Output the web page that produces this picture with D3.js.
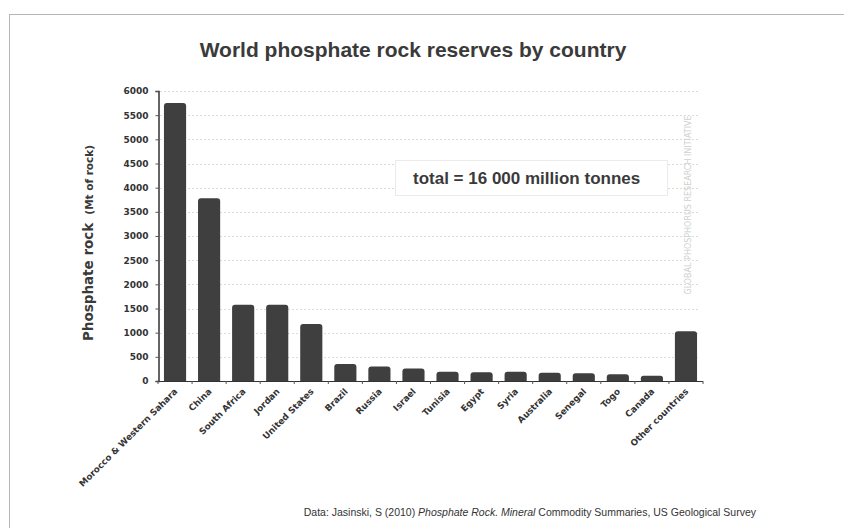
<!DOCTYPE html>
<html>
<head>
<meta charset="utf-8">
<script src="https://cdn.jsdelivr.net/npm/d3@7"></script>
<style>
  body { margin: 0; background: #fff; }
  svg { display: block; }
</style>
</head>
<body>
<div id="container"><svg></svg></div>
<script>
var countries = ['Morocco & Western Sahara', 'China', 'South Africa', 'Jordan', 'United States',
    'Brazil', 'Russia', 'Israel', 'Tunisia', 'Egypt', 'Syria', 'Australia', 'Senegal', 'Togo',
    'Canada', 'Other countries'];
var reserves = [5750, 3780, 1580, 1580, 1180, 350, 300, 260, 190, 180, 190, 170, 160, 140, 110, 1030];
var yTicks = [0, 500, 1000, 1500, 2000, 2500, 3000, 3500, 4000, 4500, 5000, 5500, 6000];

var W = 844, H = 528;
var barColor = '#3f3f3f';

function main() {
    var svg = d3.select('#container svg').attr('width', W).attr('height', H);

    // page frame
    svg.append('line').attr('x1', 9).attr('x2', W).attr('y1', 14.5).attr('y2', 14.5)
        .attr('stroke', '#b5b5b5').attr('stroke-width', 1);
    svg.append('line').attr('x1', 9.5).attr('x2', 9.5).attr('y1', 14).attr('y2', H)
        .attr('stroke', '#b5b5b5').attr('stroke-width', 1);

    svg.append('text')
        .attr('x', 413).attr('y', 57)
        .attr('text-anchor', 'middle')
        .style('font-family', '"Liberation Sans", Arial, sans-serif')
        .style('font-weight', 'bold').style('font-size', '21px')
        .attr('fill', '#3a3a3a')
        .text('World phosphate rock reserves by country');

    var x = d3.scaleBand().domain(countries).range([158, 703]).paddingInner(0.35).paddingOuter(0.175);
    var y = d3.scaleLinear().domain([0, 6000]).range([381, 91]);

    // gridlines
    svg.append('g').selectAll('line').data(yTicks.slice(1)).join('line')
        .attr('x1', 160).attr('x2', 700)
        .attr('y1', function(d) { return Math.round(y(d)) + 0.5; })
        .attr('y2', function(d) { return Math.round(y(d)) + 0.5; })
        .attr('stroke', '#dcdcdc').attr('stroke-width', 1).attr('stroke-dasharray', '2,2');

    // watermark
    svg.append('text')
        .attr('transform', 'translate(691,205) rotate(-90)')
        .attr('text-anchor', 'middle')
        .style('font-family', '"DejaVu Sans", sans-serif').style('font-size', '8px')
        .attr('fill', '#d0d0d0')
        .text('GLOBAL PHOSPHORUS RESEARCH INITIATIVE');

    // annotation box
    svg.append('rect').attr('x', 395.5).attr('y', 160.5).attr('width', 272).attr('height', 35)
        .attr('fill', '#fff').attr('stroke', '#ebebeb');
    svg.append('text')
        .attr('x', 413).attr('y', 184)
        .style('font-family', '"Liberation Sans", Arial, sans-serif')
        .style('font-weight', 'bold').style('font-size', '17px')
        .attr('fill', '#3a3a3a')
        .text('total = 16 000 million tonnes');

    // bars with rounded tops
    var r = 3;
    svg.append('g').selectAll('path').data(countries).join('path')
        .attr('fill', barColor)
        .attr('d', function(c, i) {
            var x0 = x(c), x1 = x(c) + x.bandwidth();
            var y0 = y(0), y1 = y(reserves[i]);
            var rr = Math.min(r, (y0 - y1) / 2);
            return 'M' + x0 + ',' + y0 + 'V' + (y1 + rr) + 'Q' + x0 + ',' + y1 + ' ' + (x0 + rr) + ',' + y1 +
                'H' + (x1 - rr) + 'Q' + x1 + ',' + y1 + ' ' + x1 + ',' + (y1 + rr) + 'V' + y0 + 'Z';
        });

    // y axis
    var yAxis = d3.axisLeft(y).tickValues(yTicks).tickSize(3).tickPadding(7).tickFormat(d3.format('d'));
    var gy = svg.append('g').attr('transform', 'translate(158.5,0)').call(yAxis);
    gy.select('.domain').attr('stroke', '#333').attr('stroke-width', 1.5);
    gy.selectAll('.tick line').attr('stroke', '#555');
    gy.selectAll('.tick text')
        .style('font-family', '"DejaVu Sans", sans-serif')
        .style('font-weight', 'bold').style('font-size', '9px')
        .attr('fill', '#333');

    // x axis line and boundary ticks
    var gx = svg.append('g');
    gx.append('line').attr('x1', 158).attr('x2', 703).attr('y1', 381.5).attr('y2', 381.5)
        .attr('stroke', '#333').attr('stroke-width', 1.2);
    var bounds = d3.range(countries.length + 1).map(function(i) { return 158 + i * x.step(); });
    gx.selectAll('line.tk').data(bounds).join('line').attr('class', 'tk')
        .attr('x1', function(d) { return d; }).attr('x2', function(d) { return d; })
        .attr('y1', 381).attr('y2', 384)
        .attr('stroke', '#555');

    gx.selectAll('text').data(countries).join('text')
        .attr('transform', function(c) {
            return 'translate(' + (x(c) + x.bandwidth() / 2 + 3) + ',392) rotate(-45)';
        })
        .attr('text-anchor', 'end')
        .style('font-family', '"DejaVu Sans", sans-serif')
        .style('font-weight', 'bold').style('font-size', '8.8px')
        .attr('fill', '#333')
        .text(function(c) { return c; });

    // y axis title
    var yt = svg.append('text')
        .attr('transform', 'translate(93,243) rotate(-90)')
        .attr('text-anchor', 'middle')
        .style('font-family', '"DejaVu Sans", sans-serif')
        .style('font-weight', 'bold')
        .attr('fill', '#3a3a3a');
    yt.append('tspan').style('font-size', '13.5px').text('Phosphate rock');
    yt.append('tspan').style('font-size', '10.5px').attr('dx', 8).text('(Mt of rock)');

    // source
    var src = svg.append('text')
        .attr('x', 756).attr('y', 516)
        .attr('text-anchor', 'end')
        .style('font-family', '"Liberation Sans", Arial, sans-serif')
        .style('font-size', '10.5px')
        .attr('fill', '#333');
    src.append('tspan').text('Data:  Jasinski, S (2010) ');
    src.append('tspan').style('font-style', 'italic').text('Phosphate Rock.  Mineral');
    src.append('tspan').text('  Commodity Summaries, US  Geological Survey');
}

main();
</script>
</body>
</html>
